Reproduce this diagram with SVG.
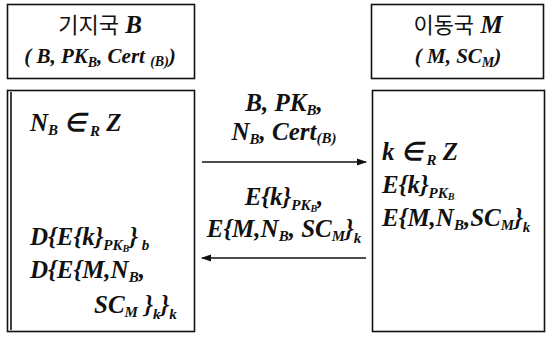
<svg xmlns="http://www.w3.org/2000/svg" width="553" height="338" viewBox="0 0 553 338">
<style>
.box{fill:#fff;stroke:#111;stroke-width:1.6}
.ln{stroke:#111;stroke-width:1.6;fill:none}
</style>
<defs>
<marker id="ah" markerWidth="10" markerHeight="8" refX="9" refY="4" orient="auto" markerUnits="userSpaceOnUse">
<path d="M0,0.5 L10,4 L0,7.5 Z" fill="#111"/>
</marker>
</defs>
<rect width="553" height="338" fill="#fff"/>
<g id="nodeB">
<rect class="box" x="7.5" y="4.5" width="187" height="74" stroke-width="2.2"/>
<text x="100" y="33" text-anchor="middle" font-family="Times New Roman" font-style="italic" font-weight="bold" font-size="25" fill="#111"><tspan font-family="Noto Sans CJK KR" font-style="normal" font-weight="normal" font-size="22">기지국</tspan> B</text>
<text x="100" y="63" text-anchor="middle" font-family="Times New Roman" font-style="italic" font-weight="bold" font-size="21" fill="#111">( B, PK<tspan font-size="14" dy="4">B</tspan><tspan dy="-4">, Cert </tspan><tspan font-size="14" dy="3">(B)</tspan><tspan dy="-3">)</tspan></text>
</g>
<g id="nodeM">
<rect class="box" x="371.5" y="4.5" width="172" height="74" stroke-width="2.2"/>
<text x="458" y="33" text-anchor="middle" font-family="Times New Roman" font-style="italic" font-weight="bold" font-size="25" fill="#111"><tspan font-family="Noto Sans CJK KR" font-style="normal" font-weight="normal" font-size="22">이동국</tspan> M</text>
<text x="458" y="63" text-anchor="middle" font-family="Times New Roman" font-style="italic" font-weight="bold" font-size="21" fill="#111">( M, SC<tspan font-size="14" dy="4">M</tspan><tspan dy="-4">)</tspan></text>
</g>
<g id="bodyB">
<rect class="box" x="7.5" y="90.5" width="187" height="241"/>
<line class="ln" x1="11" y1="92" x2="11" y2="330" stroke-width="1.2"/>
<text x="30" y="131" font-family="Times New Roman" font-style="italic" font-weight="bold" font-size="25" fill="#111">N<tspan font-size="15" dy="4">B</tspan><tspan dy="-4"> ∈</tspan><tspan font-size="15" dy="5"> R</tspan><tspan dy="-5"> Z</tspan></text>
<text x="30" y="245" font-family="Times New Roman" font-style="italic" font-weight="bold" font-size="25" fill="#111">D{E{k}<tspan font-size="15" dy="5">PK</tspan><tspan font-size="10" dy="2">B</tspan><tspan dy="-7">}</tspan><tspan font-size="15" dy="5"> b</tspan></text>
<text x="30" y="278" font-family="Times New Roman" font-style="italic" font-weight="bold" font-size="25" fill="#111">D{E{M,N<tspan font-size="15" dy="4">B</tspan><tspan dy="-4">,</tspan></text>
<text x="94" y="313" font-family="Times New Roman" font-style="italic" font-weight="bold" font-size="25" fill="#111">SC<tspan font-size="15" dy="4">M</tspan><tspan dy="-4"> }</tspan><tspan font-size="15" dy="6">k</tspan><tspan dy="-6">}</tspan><tspan font-size="15" dy="6">k</tspan></text>
</g>
<g id="bodyM">
<rect class="box" x="372.5" y="90.5" width="172" height="241"/>
<text x="382" y="160" font-family="Times New Roman" font-style="italic" font-weight="bold" font-size="25" fill="#111">k ∈<tspan font-size="15" dy="5"> R</tspan><tspan dy="-5"> Z</tspan></text>
<text x="382" y="193" font-family="Times New Roman" font-style="italic" font-weight="bold" font-size="25" fill="#111">E{k}<tspan font-size="15" dy="5">PK</tspan><tspan font-size="10" dy="2">B</tspan></text>
<text x="382" y="226" font-family="Times New Roman" font-style="italic" font-weight="bold" font-size="25" fill="#111">E{M,N<tspan font-size="15" dy="4">B</tspan><tspan dy="-4">,SC</tspan><tspan font-size="15" dy="4">M</tspan><tspan dy="-4">}</tspan><tspan font-size="15" dy="6">k</tspan></text>
</g>
<g id="connectors">
<line class="ln" x1="202" y1="162" x2="366" y2="162" marker-end="url(#ah)"/>
<line class="ln" x1="366" y1="258" x2="202" y2="258" marker-end="url(#ah)"/>
<text x="284" y="111" text-anchor="middle" font-family="Times New Roman" font-style="italic" font-weight="bold" font-size="25" fill="#111">B, PK<tspan font-size="15" dy="4">B</tspan><tspan dy="-4">,</tspan></text>
<text x="284" y="140" text-anchor="middle" font-family="Times New Roman" font-style="italic" font-weight="bold" font-size="25" fill="#111">N<tspan font-size="15" dy="4">B</tspan><tspan dy="-4">, Cert</tspan><tspan font-size="15" dy="3">(B)</tspan></text>
<text x="284" y="205" text-anchor="middle" font-family="Times New Roman" font-style="italic" font-weight="bold" font-size="25" fill="#111">E{k}<tspan font-size="15" dy="5">PK</tspan><tspan font-size="10" dy="2">B</tspan><tspan dy="-7">,</tspan></text>
<text x="284" y="237" text-anchor="middle" font-family="Times New Roman" font-style="italic" font-weight="bold" font-size="25" fill="#111">E{M,N<tspan font-size="15" dy="4">B</tspan><tspan dy="-4">, SC</tspan><tspan font-size="15" dy="4">M</tspan><tspan dy="-4">}</tspan><tspan font-size="15" dy="6">k</tspan></text>
</g>
</svg>
